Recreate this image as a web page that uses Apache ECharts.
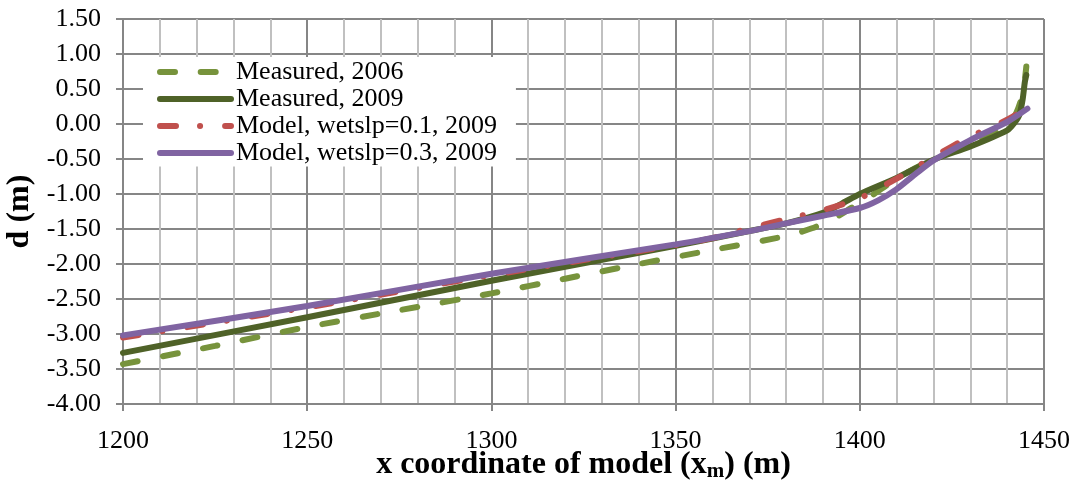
<!DOCTYPE html>
<html><head><meta charset="utf-8">
<script src="https://cdn.jsdelivr.net/npm/echarts@6/dist/echarts.min.js"></script>
<style>html,body{margin:0;padding:0;background:#fff}#c{width:1074px;height:481px}</style>
</head><body><div id="c"></div>
<script>
const seriesNames = ['Measured, 2006', 'Measured, 2009', 'Model, wetslp=0.1, 2009', 'Model, wetslp=0.3, 2009'];

const x2006 = [1200, 1225, 1250, 1275, 1300, 1320, 1340, 1360, 1380, 1387, 1393, 1397, 1403, 1410, 1420, 1430, 1440, 1442.5, 1444.3, 1445.2];
const d2006 = [-3.43, -3.17, -2.90, -2.66, -2.42, -2.21, -2.00, -1.80, -1.60, -1.49, -1.35, -1.22, -1.03, -0.78, -0.50, -0.29, -0.04, 0.16, 0.45, 0.82];

const x2009 = [1200, 1250, 1300, 1350, 1370, 1380, 1390, 1395, 1400, 1410, 1420, 1430, 1440, 1442, 1443.3, 1444.2, 1444.8, 1445.2];
const d2009 = [-3.27, -2.76, -2.24, -1.74, -1.53, -1.42, -1.27, -1.14, -1.00, -0.77, -0.51, -0.32, -0.09, 0.02, 0.13, 0.35, 0.60, 0.70];

const xModel01 = [1200, 1250, 1300, 1350, 1360, 1370, 1380, 1390, 1400, 1410, 1420, 1430, 1440, 1445];
const dModel01 = [-3.05, -2.62, -2.16, -1.73, -1.63, -1.49, -1.36, -1.23, -1.06, -0.78, -0.47, -0.18, 0.06, 0.22];

const xModel03 = [1200, 1250, 1300, 1350, 1370, 1380, 1390, 1400, 1405, 1410, 1415, 1420, 1430, 1440, 1445.5];
const dModel03 = [-3.02, -2.60, -2.14, -1.72, -1.53, -1.42, -1.31, -1.20, -1.09, -0.93, -0.72, -0.52, -0.23, 0.03, 0.22];

const xTickRange = [1200, 1450, 50];
const yTickRange = [-4, 1.5, 0.5];

const colors = ['#77933C', '#4F6228', '#C0504D', '#8064A2'];
const FONT = '"Liberation Serif","Times New Roman",serif';
const LW = 6;

function pairs(xs, ys) { return xs.map((x, i) => [x, ys[i]]); }

const chart = echarts.init(document.getElementById('c'), null, {renderer: 'canvas'});
const axisCol = '#868686';
chart.setOption({
  animation: false,
  backgroundColor: '#ffffff',
  grid: {left: 123, right: 30, top: 19, bottom: 77, containLabel: false, outerBoundsMode: 'none'},
  legend: {
    orient: 'vertical', left: 143, top: 57,
    padding: [1.5, 19, 0, 14],
    itemWidth: 71, itemHeight: 14, itemGap: 0,
    backgroundColor: '#ffffff',
    itemStyle: {color: 'rgba(0,0,0,0)', borderColor: 'rgba(0,0,0,0)', borderWidth: 0},
    lineStyle: {width: LW},
    textStyle: {fontFamily: FONT, fontSize: 26, color: '#000', lineHeight: 27},
    data: seriesNames
  },
  xAxis: {
    type: 'value', min: xTickRange[0], max: xTickRange[1], interval: xTickRange[2],
    axisLine: {show: true, onZero: false, lineStyle: {color: axisCol, width: 2}},
    axisTick: {show: true, length: 7, lineStyle: {color: axisCol, width: 2}},
    minorTick: {show: false, splitNumber: 5},
    minorSplitLine: {show: true, lineStyle: {color: '#c0c0c0', width: 2}},
    splitLine: {show: true, lineStyle: {color: axisCol, width: 2}},
    axisLabel: {margin: 24, fontFamily: FONT, fontSize: 26, color: '#000', formatter: v => String(v)},
    name: '{b|x coordinate of model (x}{s|m}{b|) (m)}',
    nameLocation: 'middle', nameGap: 44, nameMoveOverlap: false,
    nameTextStyle: {
      fontFamily: FONT, fontWeight: 'bold', fontSize: 32, color: '#000',
      rich: {
        b: {fontFamily: FONT, fontWeight: 'bold', fontSize: 32, lineHeight: 34, color: '#000'},
        s: {fontFamily: FONT, fontWeight: 'bold', fontSize: 21, lineHeight: 13, verticalAlign: 'bottom', color: '#000'}
      }
    }
  },
  yAxis: {
    type: 'value', min: yTickRange[0], max: yTickRange[1], interval: yTickRange[2],
    axisLine: {show: true, onZero: false, lineStyle: {color: axisCol, width: 2}},
    axisTick: {show: true, length: 7, lineStyle: {color: axisCol, width: 2}},
    splitLine: {show: true, lineStyle: {color: axisCol, width: 2}},
    axisLabel: {margin: 22, fontFamily: FONT, fontSize: 26, color: '#000', formatter: v => v.toFixed(2)},
    name: 'd (m)', nameLocation: 'middle', nameGap: 87, nameMoveOverlap: false,
    nameTextStyle: {fontFamily: FONT, fontWeight: 'bold', fontSize: 32, color: '#000'}
  },
  series: [
    {name: seriesNames[0], type: 'line', data: pairs(x2006, d2006), symbol: 'none', showSymbol: false, smooth: 0.25,
     itemStyle: {color: colors[0]}, lineStyle: {color: colors[0], width: LW, type: [15, 25.7], dashOffset: 0, cap: 'round'}},
    {name: seriesNames[1], type: 'line', data: pairs(x2009, d2009), symbol: 'none', showSymbol: false, smooth: 0.25,
     itemStyle: {color: colors[1]}, lineStyle: {color: colors[1], width: LW, cap: 'round'}},
    {name: seriesNames[2], type: 'line', data: pairs(xModel01, dModel01), symbol: 'none', showSymbol: false, smooth: 0.25,
     itemStyle: {color: colors[2]}, lineStyle: {color: colors[2], width: LW, type: [16, 24, 0.1, 25], cap: 'round'}},
    {name: seriesNames[3], type: 'line', data: pairs(xModel03, dModel03), symbol: 'none', showSymbol: false, smooth: 0.25,
     itemStyle: {color: colors[3]}, lineStyle: {color: colors[3], width: LW, cap: 'round'}}
  ]
});
</script></body></html>
